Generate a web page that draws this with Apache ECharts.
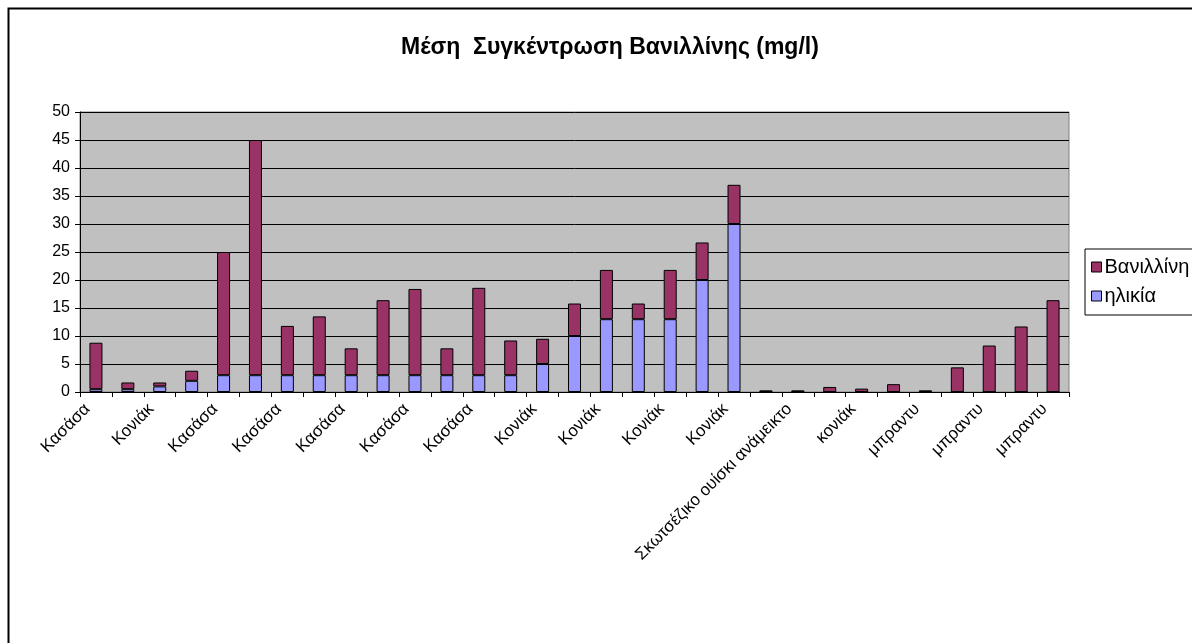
<!DOCTYPE html>
<html>
<head>
<meta charset="utf-8">
<script src="https://cdn.jsdelivr.net/npm/echarts@6/dist/echarts.min.js"></script>
<style>
html,body{margin:0;padding:0;background:#fff;}
#c{width:1192px;height:643px;}
</style>
</head>
<body>
<div id="c"></div>
<script>
const categories = [
  'Κασάσα','Κασάσα','Κονιάκ','Κονιάκ','Κασάσα','Κασάσα','Κασάσα','Κασάσα','Κασάσα','Κασάσα',
  'Κασάσα','Κασάσα','Κασάσα','Κασάσα','Κονιάκ','Κονιάκ','Κονιάκ','Κονιάκ','Κονιάκ','Κονιάκ',
  'Κονιάκ','Σκωτσέζικο ουίσκι ανάμεικτο','Σκωτσέζικο ουίσκι ανάμεικτο','κονιάκ','κονιάκ','μπραντυ','μπραντυ','μπραντυ','μπραντυ','μπραντυ',
  'μπραντυ'
];
const ageValues = [0.5,0.5,1,2,3,3,3,3,3,3,3,3,3,3,5,10,13,13,13,20,30,0,0,0,0,0,0,0,0,0,0];
const vanillinValues = [8.3,1.2,0.7,1.8,22,42,8.8,10.5,4.8,13.4,15.4,4.8,15.6,6.2,4.5,5.8,8.8,2.8,8.8,6.7,7,0.3,0.3,0.9,0.6,1.4,0.3,4.4,8.3,11.7,16.4];
const yTicks = [0,5,10,15,20,25,30,35,40,45,50];

const chart = echarts.init(document.getElementById('c'), null, {renderer:'canvas'});
const font = 'Liberation Sans, Arial, sans-serif';
chart.setOption({
  animation:false,
  backgroundColor:'#ffffff',
  textStyle:{fontFamily:font},
  title:{
    text:'Μέση  Συγκέντρωση Βανιλλίνης (mg/l)',
    left:396, top:31,
    textStyle:{fontFamily:font,fontSize:23,fontWeight:'bold',color:'#000'}
  },
  graphic:[{
    type:'rect', left:6, top:6, z:-1, silent:true,
    shape:{width:1200,height:700},
    style:{fill:'none',stroke:'#000',lineWidth:2}
  }],
  legend:{
    orient:'vertical',
    left:1085, top:249,
    data:[
      {name:'Βανιλλίνη',icon:'rect'},
      {name:'ηλικία',icon:'rect'}
    ],
    itemWidth:10, itemHeight:10, itemGap:9,
    padding:[8,8,9,6],
    backgroundColor:'#fff',
    borderColor:'#000', borderWidth:1,
    textStyle:{fontFamily:font,fontSize:20,color:'#000',padding:[0,0,0,-2]},
    itemStyle:{borderColor:'#000',borderWidth:1}
  },
  grid:{left:80,top:112,right:123,bottom:251,show:true,backgroundColor:'#C0C0C0',borderColor:'#808080',borderWidth:1},
  xAxis:{
    type:'category',
    data:categories,
    boundaryGap:true,
    axisLine:{lineStyle:{color:'#000',width:1}},
    axisTick:{show:true,interval:0,alignWithLabel:false,length:5,lineStyle:{color:'#000'}},
    axisLabel:{interval:1,rotate:45,fontFamily:font,fontSize:17,color:'#000',margin:6,padding:[0,12,0,0]},
    splitLine:{show:false}
  },
  yAxis:{
    type:'value',
    min:yTicks[0], max:yTicks[yTicks.length-1], interval:5,
    axisLine:{show:true,lineStyle:{color:'#000',width:1}},
    axisTick:{show:true,length:5,lineStyle:{color:'#000'}},
    axisLabel:{fontFamily:font,fontSize:16,color:'#000',margin:10},
    splitLine:{show:true,lineStyle:{color:'#000',width:1}}
  },
  series:[
    {
      name:'ηλικία', type:'bar', stack:'a', data:ageValues, barWidth:13,
      itemStyle:{color:'#9999FF',borderColor:'#000',borderWidth:1}
    },
    {
      name:'Βανιλλίνη', type:'bar', stack:'a', data:vanillinValues, barWidth:13,
      itemStyle:{color:'#993366',borderColor:'#000',borderWidth:1}
    }
  ]
});
</script>
</body>
</html>
